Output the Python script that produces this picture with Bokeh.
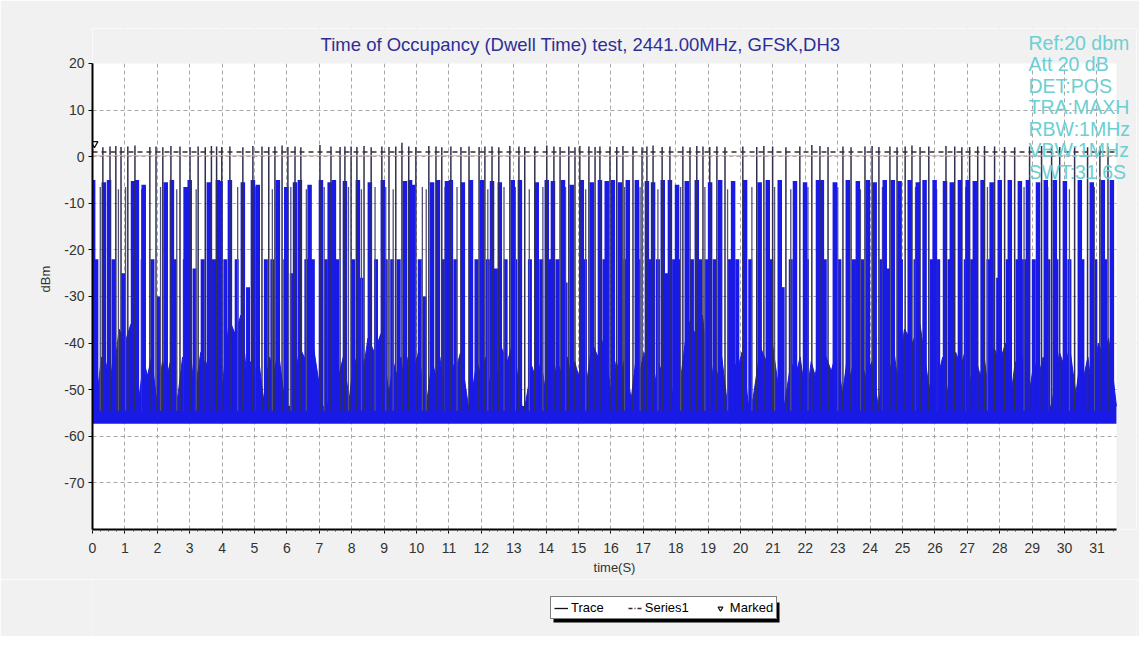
from bokeh.plotting import figure
from bokeh.models import Range1d, FixedTicker, Label, ColumnDataSource, Legend, LegendItem, BoxAnnotation
from bokeh.layouts import column
from bokeh.embed import file_html
from bokeh.resources import INLINE

# ---------------- data ----------------
x_ticks = list(range(0, 32))
y_ticks = [20, 10, 0, -10, -20, -30, -40, -50, -60, -70]

# tall bursts (peak about +2 dBm)
tall_t = [0.32, 0.54, 0.72, 0.88, 1.09, 1.31, 1.77, 1.96, 2.17, 2.42, 2.70, 3.01, 3.26, 3.48, 3.67, 3.83,
          3.99, 4.24, 4.64, 4.95, 5.23, 5.44, 5.63, 5.85, 6.03, 6.25, 6.43, 7.02, 7.36, 7.64, 7.79,
          7.98, 8.16, 8.38, 8.60, 8.93, 9.15, 9.36, 9.55, 9.76, 9.98, 10.38, 10.60, 10.78, 11.06, 11.37, 11.62,
          11.93, 12.11, 12.33, 12.54, 12.88, 13.16, 13.34, 13.65, 14.02, 14.24, 14.43, 14.70, 14.89, 15.04, 15.32, 15.51, 15.66,
          15.97, 16.18, 16.37, 16.68, 16.96, 17.11, 17.30, 17.58, 17.82, 18.22, 18.44, 18.65, 18.84, 19.05, 19.27, 19.52,
          20.07, 20.50, 20.72, 20.99, 21.40, 21.83, 22.20, 22.45, 22.70, 23.16, 23.41, 23.84, 24.06, 24.27, 24.61, 24.83,
          25.08, 25.29, 25.54, 25.81, 26.34, 26.61, 26.83, 27.07, 27.32, 27.53, 27.84, 28.15, 28.46, 28.92, 29.29, 29.60,
          29.85, 30.31, 30.71, 31.09, 31.34]
tall_v = [2.0, 2.2, 2.3, 2.1, 2.2, 2.4, 2.1, 2.2, 2.0, 2.3, 2.2, 2.1, 2.2, 2.0, 2.3, 2.2,
          2.1, 2.2, 2.0, 2.3, 2.2, 2.1, 2.2, 2.4, 2.1, 2.2, 2.0, 2.5, 2.2, 2.1, 2.2,
          2.2, 2.1, 2.3, 2.0, 2.2, 2.1, 2.2, 3.0, 2.2, 2.1, 2.3, 2.2, 2.0, 2.2, 2.1, 2.2,
          2.1, 2.2, 2.2, 2.0, 2.3, 2.2, 2.1, 2.2, 2.4, 2.2, 2.1, 2.2, 2.0, 2.3, 2.2, 2.1, 2.2,
          2.2, 2.1, 2.3, 2.2, 2.0, 2.2, 2.4, 2.1, 2.2, 2.2, 2.0, 2.3, 2.2, 2.1, 2.2, 2.0,
          2.2, 2.1, 2.3, 2.2, 2.0, 2.2, 2.5, 2.3, 2.1, 2.2, 2.0, 2.2, 2.3, 2.1, 2.2, 2.0,
          2.2, 2.4, 2.1, 2.2, 2.3, 2.2, 2.0, 2.1, 2.2, 2.3, 2.2, 2.1, 2.0, 2.2, 2.3, 2.2,
          2.1, 2.2, 2.0, 2.2, 2.1]

# wide blue bursts (peak about -5 dBm)
mid_t = [0.02, 0.35, 0.51, 1.25, 1.37, 1.58, 2.26, 2.45, 2.88, 3.00, 3.59, 3.87,
         3.95, 4.24, 4.64, 4.95, 5.10, 5.72, 5.98, 6.25, 6.40, 6.70, 7.05, 7.32, 7.45, 7.79,
         8.19, 8.56, 8.96, 9.64, 9.80, 9.89, 10.48, 10.66, 10.94, 11.06, 11.43, 11.68,
         12.02, 12.33, 12.57, 12.97, 13.19, 13.71, 14.02, 14.21, 14.52, 14.79, 15.10, 15.41, 15.66,
         15.87, 16.06, 16.28, 16.52, 16.80, 17.11, 17.30, 17.60, 17.82, 18.04, 18.34, 18.65,
         19.06, 19.37, 19.77, 20.14, 20.59, 20.84, 21.21, 21.68, 21.99, 22.39, 22.51, 22.91,
         23.31, 23.62, 23.93, 24.14, 24.45, 24.70, 24.91, 25.22, 25.47, 25.68, 25.99, 26.31,
         26.52, 26.77, 27.01, 27.23, 27.47, 27.75, 28.00, 28.31, 28.62, 28.87, 29.18, 29.42,
         29.70, 30.01, 30.47, 30.84, 31.18, 31.46]
mid_v = [-5.0, -5.5, -5.0, -5.2, -5.0, -6.0, -5.5, -5.0, -6.5, -5.0, -5.5, -5.0,
         -5.2, -5.0, -5.5, -5.0, -6.0, -5.0, -6.5, -5.5, -5.0, -6.0, -5.0, -5.5, -5.0, -5.2,
         -5.0, -5.5, -5.0, -5.2, -5.0, -6.0, -5.5, -5.0, -5.2, -5.0, -5.5, -5.0,
         -5.0, -5.2, -5.5, -5.0, -5.0, -5.5, -5.0, -5.2, -5.0, -6.0, -5.0, -5.5, -5.0,
         -5.2, -5.0, -5.5, -5.0, -5.0, -5.2, -5.5, -5.0, -5.0, -6.0, -5.2, -5.0,
         -5.5, -5.0, -5.2, -5.0, -5.5, -5.0, -5.0, -5.2, -5.5, -5.0, -5.0, -5.5,
         -5.0, -5.2, -5.0, -5.5, -5.0, -5.0, -5.2, -5.0, -5.5, -5.0, -5.0, -5.2,
         -5.5, -5.0, -5.0, -5.2, -5.0, -5.5, -5.0, -5.0, -5.2, -5.0, -5.5, -5.0,
         -5.0, -5.2, -5.0, -5.5, -5.0, -5.0]

# thin bursts (peak about -6.5 dBm)
thin_t = [0.24, 0.80, 1.02, 1.52, 1.62, 2.10, 2.60, 2.83, 3.20, 4.48, 5.02, 5.55, 6.12, 6.60,
          7.15, 7.90, 8.30, 8.72, 9.05, 9.28, 10.18, 10.30, 10.88, 11.25, 12.20, 12.70, 13.05,
          13.48, 13.90, 14.60, 15.22, 16.42, 16.90, 17.45, 18.15, 18.90, 19.60, 20.35, 21.05,
          21.55, 22.08, 23.00, 23.70, 24.38, 25.40, 26.05, 26.95, 27.62, 28.30, 28.75, 29.48,
          30.15, 30.92]
thin_v = [-6.5, -7.0, -6.5, -7.0, -6.5, -6.5, -7.0, -6.5, -7.0, -6.5, -6.5, -7.0, -6.5, -7.0,
          -6.5, -6.5, -7.0, -6.5, -6.5, -7.0, -6.5, -7.0, -6.5, -6.5, -7.0, -6.5, -6.5,
          -7.0, -6.5, -6.5, -7.0, -6.5, -6.5, -7.0, -6.5, -6.5, -7.0, -6.5, -6.5,
          -7.0, -6.5, -6.5, -7.0, -6.5, -6.5, -7.0, -6.5, -6.5, -7.0, -6.5, -6.5,
          -7.0, -6.5]

# lower bursts (peak about -22 dBm)
low_t = [0.12, 0.65, 0.95, 1.55, 1.85, 2.05, 2.55, 2.85, 3.15, 3.40, 3.75, 4.10, 4.45, 4.80,
         5.10, 5.35, 5.55, 5.95, 6.15, 6.60, 6.80, 7.20, 7.55, 8.05, 8.30, 8.75, 9.05, 9.25,
         9.45, 10.10, 10.25, 10.85, 11.20, 11.85, 12.20, 12.45, 12.75, 13.05, 13.50, 13.85,
         14.10, 14.35, 14.60, 15.20, 15.80, 16.45, 16.85, 17.20, 17.45, 17.70, 17.95, 18.10,
         18.50, 18.75, 18.95, 19.20, 19.65, 19.90, 20.30, 20.95, 21.30, 21.55, 22.05, 22.60,
         23.05, 23.50, 23.75, 24.35, 24.55, 24.95, 25.40, 25.90, 26.10, 26.45, 26.95, 27.15,
         27.65, 27.95, 28.25, 28.55, 28.75, 29.05, 29.50, 29.75, 30.15, 30.55, 30.95, 31.25]
low_v = [-22, -22, -25, -22, -22, -30, -22, -22, -24, -22, -22, -22, -22, -28,
         -22, -22, -22, -22, -25, -22, -22, -22, -22, -22, -26, -22, -22, -22,
         -22, -22, -30, -22, -22, -22, -22, -24, -22, -22, -22, -22,
         -22, -22, -27, -22, -22, -22, -22, -22, -22, -25, -22, -22,
         -22, -22, -22, -22, -22, -22, -22, -22, -28, -22, -22, -22,
         -22, -22, -22, -22, -24, -22, -22, -22, -22, -22, -22, -22,
         -22, -26, -22, -22, -22, -22, -22, -22, -22, -22, -22, -22]

# humps of energy near the floor
hump_t = [0.4, 1.0, 1.7, 2.3, 2.9, 3.5, 4.4, 5.0, 5.6, 6.6, 7.6, 8.2, 8.7, 9.4, 9.9, 10.6, 11.2, 12.0,
          12.8, 13.7, 14.5, 15.0, 15.6, 16.3, 16.9, 17.6, 18.6, 19.3, 19.9, 20.8, 21.7, 22.3, 22.8,
          23.4, 23.9, 24.6, 25.3, 26.1, 26.8, 27.4, 28.0, 28.6, 29.2, 30.0, 30.6, 31.2]
hump_h = [-46, -40, -47, -47, -46, -45, -38, -47, -46, -44, -47, -46, -42, -47, -46, -47, -46, -47,
          -44, -48, -47, -47, -43, -47, -46, -47, -38, -47, -46, -44, -47, -47, -46,
          -47, -48, -46, -40, -47, -45, -47, -44, -47, -47, -45, -47, -43]
hump_w = [0.30, 0.45, 0.30, 0.35, 0.30, 0.40, 0.45, 0.30, 0.35, 0.50, 0.35, 0.30, 0.50, 0.30, 0.40, 0.30, 0.40, 0.35,
          0.45, 0.35, 0.40, 0.30, 0.45, 0.35, 0.30, 0.35, 0.55, 0.30, 0.35, 0.45, 0.35, 0.30, 0.40,
          0.30, 0.35, 0.35, 0.60, 0.35, 0.40, 0.30, 0.45, 0.30, 0.35, 0.40, 0.30, 0.40]

floor_lo = -57.3
floor_hi = -53.5
sweep_time = 31.6
ref_level = 1.0
ref2_level = 0.2
mark_t, mark_v = [0.06], [2.8]

info = ["Ref:20 dbm", "Att 20 dB", "DET:POS", "TRA:MAXH", "RBW:1MHz", "VBW:1MHz", "SWT:31.6S"]
legend_labels = ["Trace", "Series1", "Marked"]

# ---------------- main figure ----------------
BLUE = "#1a1ae6"
DARK = "#30304e"
REF_COLOR = "#3b2a2a"
BG = "#f1f1f1"
FONT = "Liberation Sans"
Y_MIN, Y_MAX, Y_TOP = -80, 20, 27.5
X_RIGHT = 32.22

p = figure(width=1139, height=579, output_backend="svg", toolbar_location=None,
           x_range=Range1d(0, X_RIGHT), y_range=Range1d(Y_MIN, Y_TOP), title=None,
           min_border_left=92, min_border_right=3, min_border_top=28, min_border_bottom=50)
p.border_fill_color = BG
p.background_fill_color = "#ffffff"
p.outline_line_color = None

for ax in (p.xaxis[0], p.yaxis[0]):
    ax.axis_line_color = "black"
    ax.axis_line_width = 2
    ax.major_tick_line_color = "black"
    ax.minor_tick_line_color = "#444444"
    ax.major_tick_out = 4
    ax.major_tick_in = 0
    ax.minor_tick_out = 2
    ax.minor_tick_in = 0
    ax.major_label_text_font = FONT
    ax.major_label_text_font_size = "14px"
    ax.major_label_text_color = "#333333"
    ax.axis_label_text_font = FONT
    ax.axis_label_text_font_size = "13px"
    ax.axis_label_text_font_style = "normal"
    ax.axis_label_text_color = "#333333"
p.xaxis.bounds = (0, sweep_time)
p.yaxis.bounds = (Y_MIN, Y_MAX)
p.xaxis.ticker = FixedTicker(ticks=x_ticks, minor_ticks=[i * 0.25 for i in range(0, 127)])
p.yaxis.ticker = FixedTicker(ticks=y_ticks, minor_ticks=[])
p.yaxis.major_label_overrides = {t: str(t) for t in y_ticks}
p.xaxis.major_label_standoff = 9
p.yaxis.major_label_standoff = 4
p.xaxis.axis_label = "time(S)"
p.xaxis.axis_label_standoff = 4
p.yaxis.axis_label = "dBm"
p.yaxis.axis_label_standoff = 8

p.xgrid.ticker = FixedTicker(ticks=x_ticks[1:])
p.ygrid.ticker = FixedTicker(ticks=[t for t in y_ticks if t != 20])
for g in (p.xgrid[0], p.ygrid[0]):
    g.grid_line_color = "#a8a8a8"
    g.grid_line_dash = "4 3"
    g.grid_line_width = 1

# grey surround outside the plotting area (covers grid beyond the axes)
p.quad(left=[0, sweep_time], right=[X_RIGHT, X_RIGHT], bottom=[Y_MAX, Y_MIN], top=[Y_TOP, Y_TOP],
       fill_color=BG, line_color=None)

# noise floor band
p.varea(x=[0, sweep_time], y1=[floor_lo, floor_lo], y2=[floor_hi, floor_hi], fill_color=BLUE)

# humps
xs, ys = [], []
for t, h, w in zip(hump_t, hump_h, hump_w):
    xs.append([t - w, t - w * 0.4, t, t + w * 0.4, t + w])
    ys.append([floor_hi, h + 3, h, h + 4, floor_hi])
p.patches(xs=xs, ys=ys, fill_color=BLUE, line_color=BLUE, line_width=1)

base = floor_hi - 1

def seg_source(ts, vs):
    n = min(len(ts), len(vs))
    return ColumnDataSource(dict(x=ts[:n], y0=[base] * n, y1=vs[:n]))

p.segment(x0="x", y0="y0", x1="x", y1="y1", source=seg_source(low_t, low_v), line_color=BLUE, line_width=4)
p.segment(x0="x", y0="y0", x1="x", y1="y1", source=seg_source(thin_t, thin_v), line_color="#50507a", line_width=1.3)
p.segment(x0="x", y0="y0", x1="x", y1="y1", source=seg_source(mid_t, mid_v), line_color=BLUE, line_width=4.5)
p.segment(x0="x", y0="y0", x1="x", y1="y1", source=seg_source(tall_t, tall_v), line_color=DARK, line_width=1.5)

# reference lines and marker
p.line(x=[0, sweep_time], y=[ref2_level, ref2_level], line_color="#e9a3a3", line_width=1)
p.line(x=[0, sweep_time], y=[ref_level, ref_level], line_color=REF_COLOR, line_width=1.3, line_dash="5 4")
p.scatter(x=mark_t, y=mark_v, marker="inverted_triangle", size=7,
          fill_color=None, line_color="#111111", line_width=1.2)

# texts inside the (extended) frame, frame-relative screen units
p.add_layout(Label(x=488, y=485, x_units="screen", y_units="screen",
                   text="Time of Occupancy (Dwell Time) test, 2441.00MHz, GFSK,DH3",
                   text_font=FONT, text_font_size="18.5px", text_color="#2e2e96",
                   text_align="center", text_baseline="middle"))
info_y = [487, 466, 444, 423, 401, 380, 358]
for txt, yy in zip(info, info_y):
    p.add_layout(Label(x=936, y=yy, x_units="screen", y_units="screen", text=txt,
                       text_font=FONT, text_font_size="19.5px", text_color="#6ccfd3",
                       text_align="left", text_baseline="middle"))

# ---------------- legend strip below ----------------
lf = figure(width=1139, height=57, output_backend="svg", toolbar_location=None,
            x_range=Range1d(0, 1), y_range=Range1d(0, 1), title=None,
            x_axis_type=None, y_axis_type=None,
            min_border_left=0, min_border_right=0, min_border_top=0, min_border_bottom=0)
lf.border_fill_color = BG
lf.background_fill_color = BG
lf.outline_line_color = None
lf.xgrid.visible = False
lf.ygrid.visible = False
offscreen = ColumnDataSource(dict(x=[5, 6], y=[5, 5]))
r1 = lf.line(x="x", y="y", source=offscreen, line_color="#111111", line_width=1.3)
r2 = lf.line(x="x", y="y", source=offscreen, line_color=REF_COLOR, line_width=1.3, line_dash="4 2 1 2")
r3 = lf.scatter(x="x", y="y", source=offscreen, marker="inverted_triangle", size=8,
                fill_color=None, line_color="#111111", line_width=1.2)

LEG_X, LEG_Y, LEG_W, LEG_H = 458, 17, 226, 20
lf.add_layout(BoxAnnotation(left=LEG_X + 3, right=LEG_X + 3 + LEG_W, bottom=LEG_Y - 3, top=LEG_Y - 3 + LEG_H,
                            left_units="screen", right_units="screen", bottom_units="screen", top_units="screen",
                            fill_color="black", fill_alpha=1.0, line_color=None))
legend = Legend(items=[LegendItem(label=legend_labels[0], renderers=[r1]),
                       LegendItem(label=legend_labels[1], renderers=[r2]),
                       LegendItem(label=legend_labels[2], renderers=[r3])],
                orientation="horizontal", location=(LEG_X, LEG_Y),
                border_line_color="black", border_line_width=1,
                background_fill_color="white", background_fill_alpha=1.0,
                label_text_font=FONT, label_text_font_size="13px", label_text_color="#000000",
                label_standoff=3, glyph_width=14, glyph_height=12, label_height=14,
                spacing=24, padding=3, margin=0)
lf.add_layout(legend)

layout = column(p, lf, spacing=0)
open("out.html", "w").write(file_html(layout, INLINE))
